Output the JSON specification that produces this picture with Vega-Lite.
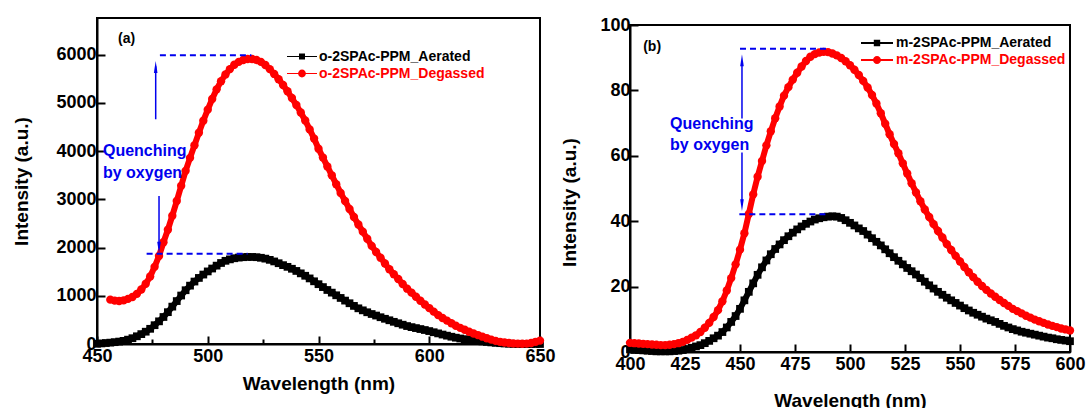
{
"$schema": "https://vega.github.io/schema/vega-lite/v6.json",
"background": "white",
"padding": {"left": 11, "top": 15, "right": 0, "bottom": 0},
"spacing": 90,
"bounds": "flush",
"datasets": {
"a": [
{"x":450,"y":5,"s":"o-2SPAc-PPM_Aerated"},{"x":452,"y":12,"s":"o-2SPAc-PPM_Aerated"},{"x":454,"y":20,"s":"o-2SPAc-PPM_Aerated"},{"x":456,"y":28,"s":"o-2SPAc-PPM_Aerated"},{"x":458,"y":38,"s":"o-2SPAc-PPM_Aerated"},{"x":460,"y":50,"s":"o-2SPAc-PPM_Aerated"},{"x":462,"y":65,"s":"o-2SPAc-PPM_Aerated"},{"x":464,"y":90,"s":"o-2SPAc-PPM_Aerated"},{"x":466,"y":120,"s":"o-2SPAc-PPM_Aerated"},{"x":468,"y":160,"s":"o-2SPAc-PPM_Aerated"},{"x":470,"y":205,"s":"o-2SPAc-PPM_Aerated"},{"x":472,"y":255,"s":"o-2SPAc-PPM_Aerated"},{"x":474,"y":315,"s":"o-2SPAc-PPM_Aerated"},{"x":476,"y":390,"s":"o-2SPAc-PPM_Aerated"},{"x":478,"y":470,"s":"o-2SPAc-PPM_Aerated"},{"x":480,"y":560,"s":"o-2SPAc-PPM_Aerated"},{"x":482,"y":660,"s":"o-2SPAc-PPM_Aerated"},{"x":484,"y":775,"s":"o-2SPAc-PPM_Aerated"},{"x":486,"y":890,"s":"o-2SPAc-PPM_Aerated"},{"x":488,"y":1005,"s":"o-2SPAc-PPM_Aerated"},{"x":490,"y":1115,"s":"o-2SPAc-PPM_Aerated"},{"x":492,"y":1210,"s":"o-2SPAc-PPM_Aerated"},{"x":494,"y":1295,"s":"o-2SPAc-PPM_Aerated"},{"x":496,"y":1370,"s":"o-2SPAc-PPM_Aerated"},{"x":498,"y":1440,"s":"o-2SPAc-PPM_Aerated"},{"x":500,"y":1505,"s":"o-2SPAc-PPM_Aerated"},{"x":502,"y":1565,"s":"o-2SPAc-PPM_Aerated"},{"x":504,"y":1625,"s":"o-2SPAc-PPM_Aerated"},{"x":506,"y":1680,"s":"o-2SPAc-PPM_Aerated"},{"x":508,"y":1725,"s":"o-2SPAc-PPM_Aerated"},{"x":510,"y":1755,"s":"o-2SPAc-PPM_Aerated"},{"x":512,"y":1778,"s":"o-2SPAc-PPM_Aerated"},{"x":514,"y":1792,"s":"o-2SPAc-PPM_Aerated"},{"x":516,"y":1800,"s":"o-2SPAc-PPM_Aerated"},{"x":518,"y":1805,"s":"o-2SPAc-PPM_Aerated"},{"x":520,"y":1805,"s":"o-2SPAc-PPM_Aerated"},{"x":522,"y":1800,"s":"o-2SPAc-PPM_Aerated"},{"x":524,"y":1788,"s":"o-2SPAc-PPM_Aerated"},{"x":526,"y":1770,"s":"o-2SPAc-PPM_Aerated"},{"x":528,"y":1745,"s":"o-2SPAc-PPM_Aerated"},{"x":530,"y":1712,"s":"o-2SPAc-PPM_Aerated"},{"x":532,"y":1675,"s":"o-2SPAc-PPM_Aerated"},{"x":534,"y":1635,"s":"o-2SPAc-PPM_Aerated"},{"x":536,"y":1600,"s":"o-2SPAc-PPM_Aerated"},{"x":538,"y":1560,"s":"o-2SPAc-PPM_Aerated"},{"x":540,"y":1515,"s":"o-2SPAc-PPM_Aerated"},{"x":542,"y":1465,"s":"o-2SPAc-PPM_Aerated"},{"x":544,"y":1415,"s":"o-2SPAc-PPM_Aerated"},{"x":546,"y":1360,"s":"o-2SPAc-PPM_Aerated"},{"x":548,"y":1300,"s":"o-2SPAc-PPM_Aerated"},{"x":550,"y":1240,"s":"o-2SPAc-PPM_Aerated"},{"x":552,"y":1180,"s":"o-2SPAc-PPM_Aerated"},{"x":554,"y":1120,"s":"o-2SPAc-PPM_Aerated"},{"x":556,"y":1065,"s":"o-2SPAc-PPM_Aerated"},{"x":558,"y":1010,"s":"o-2SPAc-PPM_Aerated"},{"x":560,"y":955,"s":"o-2SPAc-PPM_Aerated"},{"x":562,"y":900,"s":"o-2SPAc-PPM_Aerated"},{"x":564,"y":845,"s":"o-2SPAc-PPM_Aerated"},{"x":566,"y":790,"s":"o-2SPAc-PPM_Aerated"},{"x":568,"y":740,"s":"o-2SPAc-PPM_Aerated"},{"x":570,"y":698,"s":"o-2SPAc-PPM_Aerated"},{"x":572,"y":658,"s":"o-2SPAc-PPM_Aerated"},{"x":574,"y":622,"s":"o-2SPAc-PPM_Aerated"},{"x":576,"y":590,"s":"o-2SPAc-PPM_Aerated"},{"x":578,"y":555,"s":"o-2SPAc-PPM_Aerated"},{"x":580,"y":523,"s":"o-2SPAc-PPM_Aerated"},{"x":582,"y":492,"s":"o-2SPAc-PPM_Aerated"},{"x":584,"y":460,"s":"o-2SPAc-PPM_Aerated"},{"x":586,"y":430,"s":"o-2SPAc-PPM_Aerated"},{"x":588,"y":400,"s":"o-2SPAc-PPM_Aerated"},{"x":590,"y":372,"s":"o-2SPAc-PPM_Aerated"},{"x":592,"y":350,"s":"o-2SPAc-PPM_Aerated"},{"x":594,"y":330,"s":"o-2SPAc-PPM_Aerated"},{"x":596,"y":310,"s":"o-2SPAc-PPM_Aerated"},{"x":598,"y":290,"s":"o-2SPAc-PPM_Aerated"},{"x":600,"y":268,"s":"o-2SPAc-PPM_Aerated"},{"x":602,"y":244,"s":"o-2SPAc-PPM_Aerated"},{"x":604,"y":220,"s":"o-2SPAc-PPM_Aerated"},{"x":606,"y":196,"s":"o-2SPAc-PPM_Aerated"},{"x":608,"y":173,"s":"o-2SPAc-PPM_Aerated"},{"x":610,"y":151,"s":"o-2SPAc-PPM_Aerated"},{"x":612,"y":131,"s":"o-2SPAc-PPM_Aerated"},{"x":614,"y":114,"s":"o-2SPAc-PPM_Aerated"},{"x":616,"y":100,"s":"o-2SPAc-PPM_Aerated"},{"x":618,"y":87,"s":"o-2SPAc-PPM_Aerated"},{"x":620,"y":75,"s":"o-2SPAc-PPM_Aerated"},{"x":622,"y":64,"s":"o-2SPAc-PPM_Aerated"},{"x":624,"y":54,"s":"o-2SPAc-PPM_Aerated"},{"x":626,"y":43,"s":"o-2SPAc-PPM_Aerated"},{"x":628,"y":33,"s":"o-2SPAc-PPM_Aerated"},{"x":630,"y":24,"s":"o-2SPAc-PPM_Aerated"},{"x":632,"y":17,"s":"o-2SPAc-PPM_Aerated"},{"x":634,"y":11,"s":"o-2SPAc-PPM_Aerated"},{"x":636,"y":6,"s":"o-2SPAc-PPM_Aerated"},{"x":638,"y":3,"s":"o-2SPAc-PPM_Aerated"},{"x":640,"y":1,"s":"o-2SPAc-PPM_Aerated"},{"x":642,"y":0,"s":"o-2SPAc-PPM_Aerated"},{"x":644,"y":0,"s":"o-2SPAc-PPM_Aerated"},{"x":646,"y":0,"s":"o-2SPAc-PPM_Aerated"},{"x":648,"y":0,"s":"o-2SPAc-PPM_Aerated"},{"x":650,"y":0,"s":"o-2SPAc-PPM_Aerated"},
{"x":456,"y":920,"s":"o-2SPAc-PPM_Degassed"},{"x":458,"y":900,"s":"o-2SPAc-PPM_Degassed"},{"x":460,"y":892,"s":"o-2SPAc-PPM_Degassed"},{"x":462,"y":905,"s":"o-2SPAc-PPM_Degassed"},{"x":464,"y":935,"s":"o-2SPAc-PPM_Degassed"},{"x":466,"y":975,"s":"o-2SPAc-PPM_Degassed"},{"x":468,"y":1040,"s":"o-2SPAc-PPM_Degassed"},{"x":470,"y":1130,"s":"o-2SPAc-PPM_Degassed"},{"x":472,"y":1250,"s":"o-2SPAc-PPM_Degassed"},{"x":474,"y":1400,"s":"o-2SPAc-PPM_Degassed"},{"x":476,"y":1600,"s":"o-2SPAc-PPM_Degassed"},{"x":478,"y":1825,"s":"o-2SPAc-PPM_Degassed"},{"x":480,"y":2110,"s":"o-2SPAc-PPM_Degassed"},{"x":482,"y":2370,"s":"o-2SPAc-PPM_Degassed"},{"x":484,"y":2660,"s":"o-2SPAc-PPM_Degassed"},{"x":486,"y":2965,"s":"o-2SPAc-PPM_Degassed"},{"x":488,"y":3280,"s":"o-2SPAc-PPM_Degassed"},{"x":490,"y":3590,"s":"o-2SPAc-PPM_Degassed"},{"x":492,"y":3860,"s":"o-2SPAc-PPM_Degassed"},{"x":494,"y":4120,"s":"o-2SPAc-PPM_Degassed"},{"x":496,"y":4380,"s":"o-2SPAc-PPM_Degassed"},{"x":498,"y":4630,"s":"o-2SPAc-PPM_Degassed"},{"x":500,"y":4860,"s":"o-2SPAc-PPM_Degassed"},{"x":502,"y":5080,"s":"o-2SPAc-PPM_Degassed"},{"x":504,"y":5280,"s":"o-2SPAc-PPM_Degassed"},{"x":506,"y":5450,"s":"o-2SPAc-PPM_Degassed"},{"x":508,"y":5590,"s":"o-2SPAc-PPM_Degassed"},{"x":510,"y":5700,"s":"o-2SPAc-PPM_Degassed"},{"x":512,"y":5790,"s":"o-2SPAc-PPM_Degassed"},{"x":514,"y":5850,"s":"o-2SPAc-PPM_Degassed"},{"x":516,"y":5890,"s":"o-2SPAc-PPM_Degassed"},{"x":518,"y":5910,"s":"o-2SPAc-PPM_Degassed"},{"x":520,"y":5910,"s":"o-2SPAc-PPM_Degassed"},{"x":522,"y":5890,"s":"o-2SPAc-PPM_Degassed"},{"x":524,"y":5850,"s":"o-2SPAc-PPM_Degassed"},{"x":526,"y":5785,"s":"o-2SPAc-PPM_Degassed"},{"x":528,"y":5700,"s":"o-2SPAc-PPM_Degassed"},{"x":530,"y":5600,"s":"o-2SPAc-PPM_Degassed"},{"x":532,"y":5490,"s":"o-2SPAc-PPM_Degassed"},{"x":534,"y":5370,"s":"o-2SPAc-PPM_Degassed"},{"x":536,"y":5240,"s":"o-2SPAc-PPM_Degassed"},{"x":538,"y":5100,"s":"o-2SPAc-PPM_Degassed"},{"x":540,"y":4955,"s":"o-2SPAc-PPM_Degassed"},{"x":542,"y":4800,"s":"o-2SPAc-PPM_Degassed"},{"x":544,"y":4635,"s":"o-2SPAc-PPM_Degassed"},{"x":546,"y":4450,"s":"o-2SPAc-PPM_Degassed"},{"x":548,"y":4260,"s":"o-2SPAc-PPM_Degassed"},{"x":550,"y":4050,"s":"o-2SPAc-PPM_Degassed"},{"x":552,"y":3866,"s":"o-2SPAc-PPM_Degassed"},{"x":554,"y":3682,"s":"o-2SPAc-PPM_Degassed"},{"x":556,"y":3498,"s":"o-2SPAc-PPM_Degassed"},{"x":558,"y":3314,"s":"o-2SPAc-PPM_Degassed"},{"x":560,"y":3132,"s":"o-2SPAc-PPM_Degassed"},{"x":562,"y":2966,"s":"o-2SPAc-PPM_Degassed"},{"x":564,"y":2800,"s":"o-2SPAc-PPM_Degassed"},{"x":566,"y":2635,"s":"o-2SPAc-PPM_Degassed"},{"x":568,"y":2478,"s":"o-2SPAc-PPM_Degassed"},{"x":570,"y":2330,"s":"o-2SPAc-PPM_Degassed"},{"x":572,"y":2183,"s":"o-2SPAc-PPM_Degassed"},{"x":574,"y":2035,"s":"o-2SPAc-PPM_Degassed"},{"x":576,"y":1908,"s":"o-2SPAc-PPM_Degassed"},{"x":578,"y":1790,"s":"o-2SPAc-PPM_Degassed"},{"x":580,"y":1670,"s":"o-2SPAc-PPM_Degassed"},{"x":582,"y":1550,"s":"o-2SPAc-PPM_Degassed"},{"x":584,"y":1448,"s":"o-2SPAc-PPM_Degassed"},{"x":586,"y":1347,"s":"o-2SPAc-PPM_Degassed"},{"x":588,"y":1245,"s":"o-2SPAc-PPM_Degassed"},{"x":590,"y":1147,"s":"o-2SPAc-PPM_Degassed"},{"x":592,"y":1065,"s":"o-2SPAc-PPM_Degassed"},{"x":594,"y":980,"s":"o-2SPAc-PPM_Degassed"},{"x":596,"y":898,"s":"o-2SPAc-PPM_Degassed"},{"x":598,"y":820,"s":"o-2SPAc-PPM_Degassed"},{"x":600,"y":745,"s":"o-2SPAc-PPM_Degassed"},{"x":602,"y":672,"s":"o-2SPAc-PPM_Degassed"},{"x":604,"y":600,"s":"o-2SPAc-PPM_Degassed"},{"x":606,"y":540,"s":"o-2SPAc-PPM_Degassed"},{"x":608,"y":485,"s":"o-2SPAc-PPM_Degassed"},{"x":610,"y":430,"s":"o-2SPAc-PPM_Degassed"},{"x":612,"y":378,"s":"o-2SPAc-PPM_Degassed"},{"x":614,"y":335,"s":"o-2SPAc-PPM_Degassed"},{"x":616,"y":295,"s":"o-2SPAc-PPM_Degassed"},{"x":618,"y":255,"s":"o-2SPAc-PPM_Degassed"},{"x":620,"y":218,"s":"o-2SPAc-PPM_Degassed"},{"x":622,"y":185,"s":"o-2SPAc-PPM_Degassed"},{"x":624,"y":152,"s":"o-2SPAc-PPM_Degassed"},{"x":626,"y":120,"s":"o-2SPAc-PPM_Degassed"},{"x":628,"y":90,"s":"o-2SPAc-PPM_Degassed"},{"x":630,"y":65,"s":"o-2SPAc-PPM_Degassed"},{"x":632,"y":45,"s":"o-2SPAc-PPM_Degassed"},{"x":634,"y":30,"s":"o-2SPAc-PPM_Degassed"},{"x":636,"y":20,"s":"o-2SPAc-PPM_Degassed"},{"x":638,"y":12,"s":"o-2SPAc-PPM_Degassed"},{"x":640,"y":8,"s":"o-2SPAc-PPM_Degassed"},{"x":642,"y":5,"s":"o-2SPAc-PPM_Degassed"},{"x":644,"y":8,"s":"o-2SPAc-PPM_Degassed"},{"x":646,"y":20,"s":"o-2SPAc-PPM_Degassed"},{"x":648,"y":45,"s":"o-2SPAc-PPM_Degassed"},{"x":650,"y":70,"s":"o-2SPAc-PPM_Degassed"}
],
"b": [
{"x":400,"y":0.8,"s":"m-2SPAc-PPM_Aerated"},{"x":402,"y":0.7,"s":"m-2SPAc-PPM_Aerated"},{"x":404,"y":0.6,"s":"m-2SPAc-PPM_Aerated"},{"x":406,"y":0.5,"s":"m-2SPAc-PPM_Aerated"},{"x":408,"y":0.4,"s":"m-2SPAc-PPM_Aerated"},{"x":410,"y":0.3,"s":"m-2SPAc-PPM_Aerated"},{"x":412,"y":0.2,"s":"m-2SPAc-PPM_Aerated"},{"x":414,"y":0.2,"s":"m-2SPAc-PPM_Aerated"},{"x":416,"y":0.2,"s":"m-2SPAc-PPM_Aerated"},{"x":418,"y":0.2,"s":"m-2SPAc-PPM_Aerated"},{"x":420,"y":0.3,"s":"m-2SPAc-PPM_Aerated"},{"x":422,"y":0.4,"s":"m-2SPAc-PPM_Aerated"},{"x":424,"y":0.6,"s":"m-2SPAc-PPM_Aerated"},{"x":426,"y":0.9,"s":"m-2SPAc-PPM_Aerated"},{"x":428,"y":1.3,"s":"m-2SPAc-PPM_Aerated"},{"x":430,"y":1.7,"s":"m-2SPAc-PPM_Aerated"},{"x":432,"y":2.1,"s":"m-2SPAc-PPM_Aerated"},{"x":434,"y":2.7,"s":"m-2SPAc-PPM_Aerated"},{"x":436,"y":3.4,"s":"m-2SPAc-PPM_Aerated"},{"x":438,"y":4.2,"s":"m-2SPAc-PPM_Aerated"},{"x":440,"y":5.0,"s":"m-2SPAc-PPM_Aerated"},{"x":442,"y":6.1,"s":"m-2SPAc-PPM_Aerated"},{"x":444,"y":7.5,"s":"m-2SPAc-PPM_Aerated"},{"x":446,"y":9.2,"s":"m-2SPAc-PPM_Aerated"},{"x":448,"y":11.0,"s":"m-2SPAc-PPM_Aerated"},{"x":450,"y":13.2,"s":"m-2SPAc-PPM_Aerated"},{"x":452,"y":15.8,"s":"m-2SPAc-PPM_Aerated"},{"x":454,"y":18.4,"s":"m-2SPAc-PPM_Aerated"},{"x":456,"y":21.0,"s":"m-2SPAc-PPM_Aerated"},{"x":458,"y":23.6,"s":"m-2SPAc-PPM_Aerated"},{"x":460,"y":25.9,"s":"m-2SPAc-PPM_Aerated"},{"x":462,"y":28.0,"s":"m-2SPAc-PPM_Aerated"},{"x":464,"y":29.9,"s":"m-2SPAc-PPM_Aerated"},{"x":466,"y":31.5,"s":"m-2SPAc-PPM_Aerated"},{"x":468,"y":32.9,"s":"m-2SPAc-PPM_Aerated"},{"x":470,"y":34.2,"s":"m-2SPAc-PPM_Aerated"},{"x":472,"y":35.4,"s":"m-2SPAc-PPM_Aerated"},{"x":474,"y":36.5,"s":"m-2SPAc-PPM_Aerated"},{"x":476,"y":37.5,"s":"m-2SPAc-PPM_Aerated"},{"x":478,"y":38.4,"s":"m-2SPAc-PPM_Aerated"},{"x":480,"y":39.2,"s":"m-2SPAc-PPM_Aerated"},{"x":482,"y":39.9,"s":"m-2SPAc-PPM_Aerated"},{"x":484,"y":40.5,"s":"m-2SPAc-PPM_Aerated"},{"x":486,"y":40.9,"s":"m-2SPAc-PPM_Aerated"},{"x":488,"y":41.2,"s":"m-2SPAc-PPM_Aerated"},{"x":490,"y":41.4,"s":"m-2SPAc-PPM_Aerated"},{"x":492,"y":41.5,"s":"m-2SPAc-PPM_Aerated"},{"x":494,"y":41.4,"s":"m-2SPAc-PPM_Aerated"},{"x":496,"y":41.0,"s":"m-2SPAc-PPM_Aerated"},{"x":498,"y":40.3,"s":"m-2SPAc-PPM_Aerated"},{"x":500,"y":39.5,"s":"m-2SPAc-PPM_Aerated"},{"x":502,"y":38.7,"s":"m-2SPAc-PPM_Aerated"},{"x":504,"y":37.8,"s":"m-2SPAc-PPM_Aerated"},{"x":506,"y":37.0,"s":"m-2SPAc-PPM_Aerated"},{"x":508,"y":35.9,"s":"m-2SPAc-PPM_Aerated"},{"x":510,"y":34.8,"s":"m-2SPAc-PPM_Aerated"},{"x":512,"y":33.7,"s":"m-2SPAc-PPM_Aerated"},{"x":514,"y":32.6,"s":"m-2SPAc-PPM_Aerated"},{"x":516,"y":31.4,"s":"m-2SPAc-PPM_Aerated"},{"x":518,"y":30.2,"s":"m-2SPAc-PPM_Aerated"},{"x":520,"y":29.0,"s":"m-2SPAc-PPM_Aerated"},{"x":522,"y":27.9,"s":"m-2SPAc-PPM_Aerated"},{"x":524,"y":26.8,"s":"m-2SPAc-PPM_Aerated"},{"x":526,"y":25.7,"s":"m-2SPAc-PPM_Aerated"},{"x":528,"y":24.7,"s":"m-2SPAc-PPM_Aerated"},{"x":530,"y":23.7,"s":"m-2SPAc-PPM_Aerated"},{"x":532,"y":22.6,"s":"m-2SPAc-PPM_Aerated"},{"x":534,"y":21.5,"s":"m-2SPAc-PPM_Aerated"},{"x":536,"y":20.4,"s":"m-2SPAc-PPM_Aerated"},{"x":538,"y":19.4,"s":"m-2SPAc-PPM_Aerated"},{"x":540,"y":18.4,"s":"m-2SPAc-PPM_Aerated"},{"x":542,"y":17.5,"s":"m-2SPAc-PPM_Aerated"},{"x":544,"y":16.6,"s":"m-2SPAc-PPM_Aerated"},{"x":546,"y":15.8,"s":"m-2SPAc-PPM_Aerated"},{"x":548,"y":15.0,"s":"m-2SPAc-PPM_Aerated"},{"x":550,"y":14.2,"s":"m-2SPAc-PPM_Aerated"},{"x":552,"y":13.4,"s":"m-2SPAc-PPM_Aerated"},{"x":554,"y":12.7,"s":"m-2SPAc-PPM_Aerated"},{"x":556,"y":12.0,"s":"m-2SPAc-PPM_Aerated"},{"x":558,"y":11.4,"s":"m-2SPAc-PPM_Aerated"},{"x":560,"y":10.8,"s":"m-2SPAc-PPM_Aerated"},{"x":562,"y":10.2,"s":"m-2SPAc-PPM_Aerated"},{"x":564,"y":9.7,"s":"m-2SPAc-PPM_Aerated"},{"x":566,"y":9.2,"s":"m-2SPAc-PPM_Aerated"},{"x":568,"y":8.6,"s":"m-2SPAc-PPM_Aerated"},{"x":570,"y":8.0,"s":"m-2SPAc-PPM_Aerated"},{"x":572,"y":7.5,"s":"m-2SPAc-PPM_Aerated"},{"x":574,"y":7.0,"s":"m-2SPAc-PPM_Aerated"},{"x":576,"y":6.6,"s":"m-2SPAc-PPM_Aerated"},{"x":578,"y":6.2,"s":"m-2SPAc-PPM_Aerated"},{"x":580,"y":5.9,"s":"m-2SPAc-PPM_Aerated"},{"x":582,"y":5.6,"s":"m-2SPAc-PPM_Aerated"},{"x":584,"y":5.3,"s":"m-2SPAc-PPM_Aerated"},{"x":586,"y":5.0,"s":"m-2SPAc-PPM_Aerated"},{"x":588,"y":4.7,"s":"m-2SPAc-PPM_Aerated"},{"x":590,"y":4.4,"s":"m-2SPAc-PPM_Aerated"},{"x":592,"y":4.2,"s":"m-2SPAc-PPM_Aerated"},{"x":594,"y":3.9,"s":"m-2SPAc-PPM_Aerated"},{"x":596,"y":3.7,"s":"m-2SPAc-PPM_Aerated"},{"x":598,"y":3.5,"s":"m-2SPAc-PPM_Aerated"},{"x":600,"y":3.3,"s":"m-2SPAc-PPM_Aerated"},
{"x":400,"y":2.8,"s":"m-2SPAc-PPM_Degassed"},{"x":402,"y":2.7,"s":"m-2SPAc-PPM_Degassed"},{"x":404,"y":2.6,"s":"m-2SPAc-PPM_Degassed"},{"x":406,"y":2.5,"s":"m-2SPAc-PPM_Degassed"},{"x":408,"y":2.4,"s":"m-2SPAc-PPM_Degassed"},{"x":410,"y":2.3,"s":"m-2SPAc-PPM_Degassed"},{"x":412,"y":2.2,"s":"m-2SPAc-PPM_Degassed"},{"x":414,"y":2.1,"s":"m-2SPAc-PPM_Degassed"},{"x":416,"y":2.1,"s":"m-2SPAc-PPM_Degassed"},{"x":418,"y":2.2,"s":"m-2SPAc-PPM_Degassed"},{"x":420,"y":2.4,"s":"m-2SPAc-PPM_Degassed"},{"x":422,"y":2.7,"s":"m-2SPAc-PPM_Degassed"},{"x":424,"y":3.1,"s":"m-2SPAc-PPM_Degassed"},{"x":426,"y":3.7,"s":"m-2SPAc-PPM_Degassed"},{"x":428,"y":4.4,"s":"m-2SPAc-PPM_Degassed"},{"x":430,"y":5.1,"s":"m-2SPAc-PPM_Degassed"},{"x":432,"y":6.1,"s":"m-2SPAc-PPM_Degassed"},{"x":434,"y":7.4,"s":"m-2SPAc-PPM_Degassed"},{"x":436,"y":8.9,"s":"m-2SPAc-PPM_Degassed"},{"x":438,"y":10.7,"s":"m-2SPAc-PPM_Degassed"},{"x":440,"y":12.8,"s":"m-2SPAc-PPM_Degassed"},{"x":442,"y":15.5,"s":"m-2SPAc-PPM_Degassed"},{"x":444,"y":18.8,"s":"m-2SPAc-PPM_Degassed"},{"x":446,"y":22.6,"s":"m-2SPAc-PPM_Degassed"},{"x":448,"y":26.8,"s":"m-2SPAc-PPM_Degassed"},{"x":450,"y":31.3,"s":"m-2SPAc-PPM_Degassed"},{"x":452,"y":36.3,"s":"m-2SPAc-PPM_Degassed"},{"x":454,"y":42.2,"s":"m-2SPAc-PPM_Degassed"},{"x":456,"y":48.2,"s":"m-2SPAc-PPM_Degassed"},{"x":458,"y":53.6,"s":"m-2SPAc-PPM_Degassed"},{"x":460,"y":58.4,"s":"m-2SPAc-PPM_Degassed"},{"x":462,"y":63.2,"s":"m-2SPAc-PPM_Degassed"},{"x":464,"y":67.5,"s":"m-2SPAc-PPM_Degassed"},{"x":466,"y":71.5,"s":"m-2SPAc-PPM_Degassed"},{"x":468,"y":75.1,"s":"m-2SPAc-PPM_Degassed"},{"x":470,"y":78.4,"s":"m-2SPAc-PPM_Degassed"},{"x":472,"y":81.0,"s":"m-2SPAc-PPM_Degassed"},{"x":474,"y":83.3,"s":"m-2SPAc-PPM_Degassed"},{"x":476,"y":85.4,"s":"m-2SPAc-PPM_Degassed"},{"x":478,"y":87.3,"s":"m-2SPAc-PPM_Degassed"},{"x":480,"y":89.0,"s":"m-2SPAc-PPM_Degassed"},{"x":482,"y":90.3,"s":"m-2SPAc-PPM_Degassed"},{"x":484,"y":91.1,"s":"m-2SPAc-PPM_Degassed"},{"x":486,"y":91.6,"s":"m-2SPAc-PPM_Degassed"},{"x":488,"y":91.8,"s":"m-2SPAc-PPM_Degassed"},{"x":490,"y":91.7,"s":"m-2SPAc-PPM_Degassed"},{"x":492,"y":91.3,"s":"m-2SPAc-PPM_Degassed"},{"x":494,"y":90.7,"s":"m-2SPAc-PPM_Degassed"},{"x":496,"y":89.9,"s":"m-2SPAc-PPM_Degassed"},{"x":498,"y":88.9,"s":"m-2SPAc-PPM_Degassed"},{"x":500,"y":87.7,"s":"m-2SPAc-PPM_Degassed"},{"x":502,"y":86.3,"s":"m-2SPAc-PPM_Degassed"},{"x":504,"y":84.7,"s":"m-2SPAc-PPM_Degassed"},{"x":506,"y":82.9,"s":"m-2SPAc-PPM_Degassed"},{"x":508,"y":80.9,"s":"m-2SPAc-PPM_Degassed"},{"x":510,"y":78.6,"s":"m-2SPAc-PPM_Degassed"},{"x":512,"y":76.0,"s":"m-2SPAc-PPM_Degassed"},{"x":514,"y":73.0,"s":"m-2SPAc-PPM_Degassed"},{"x":516,"y":69.8,"s":"m-2SPAc-PPM_Degassed"},{"x":518,"y":66.6,"s":"m-2SPAc-PPM_Degassed"},{"x":520,"y":63.6,"s":"m-2SPAc-PPM_Degassed"},{"x":522,"y":60.8,"s":"m-2SPAc-PPM_Degassed"},{"x":524,"y":57.7,"s":"m-2SPAc-PPM_Degassed"},{"x":526,"y":54.6,"s":"m-2SPAc-PPM_Degassed"},{"x":528,"y":51.6,"s":"m-2SPAc-PPM_Degassed"},{"x":530,"y":48.8,"s":"m-2SPAc-PPM_Degassed"},{"x":532,"y":46.1,"s":"m-2SPAc-PPM_Degassed"},{"x":534,"y":43.6,"s":"m-2SPAc-PPM_Degassed"},{"x":536,"y":41.3,"s":"m-2SPAc-PPM_Degassed"},{"x":538,"y":39.1,"s":"m-2SPAc-PPM_Degassed"},{"x":540,"y":37.0,"s":"m-2SPAc-PPM_Degassed"},{"x":542,"y":35.0,"s":"m-2SPAc-PPM_Degassed"},{"x":544,"y":33.0,"s":"m-2SPAc-PPM_Degassed"},{"x":546,"y":31.2,"s":"m-2SPAc-PPM_Degassed"},{"x":548,"y":29.4,"s":"m-2SPAc-PPM_Degassed"},{"x":550,"y":27.7,"s":"m-2SPAc-PPM_Degassed"},{"x":552,"y":26.0,"s":"m-2SPAc-PPM_Degassed"},{"x":554,"y":24.4,"s":"m-2SPAc-PPM_Degassed"},{"x":556,"y":22.9,"s":"m-2SPAc-PPM_Degassed"},{"x":558,"y":21.5,"s":"m-2SPAc-PPM_Degassed"},{"x":560,"y":20.2,"s":"m-2SPAc-PPM_Degassed"},{"x":562,"y":19.0,"s":"m-2SPAc-PPM_Degassed"},{"x":564,"y":17.9,"s":"m-2SPAc-PPM_Degassed"},{"x":566,"y":16.9,"s":"m-2SPAc-PPM_Degassed"},{"x":568,"y":15.9,"s":"m-2SPAc-PPM_Degassed"},{"x":570,"y":15.0,"s":"m-2SPAc-PPM_Degassed"},{"x":572,"y":14.1,"s":"m-2SPAc-PPM_Degassed"},{"x":574,"y":13.2,"s":"m-2SPAc-PPM_Degassed"},{"x":576,"y":12.5,"s":"m-2SPAc-PPM_Degassed"},{"x":578,"y":11.8,"s":"m-2SPAc-PPM_Degassed"},{"x":580,"y":11.1,"s":"m-2SPAc-PPM_Degassed"},{"x":582,"y":10.5,"s":"m-2SPAc-PPM_Degassed"},{"x":584,"y":9.9,"s":"m-2SPAc-PPM_Degassed"},{"x":586,"y":9.4,"s":"m-2SPAc-PPM_Degassed"},{"x":588,"y":8.9,"s":"m-2SPAc-PPM_Degassed"},{"x":590,"y":8.4,"s":"m-2SPAc-PPM_Degassed"},{"x":592,"y":8.0,"s":"m-2SPAc-PPM_Degassed"},{"x":594,"y":7.6,"s":"m-2SPAc-PPM_Degassed"},{"x":596,"y":7.2,"s":"m-2SPAc-PPM_Degassed"},{"x":598,"y":6.9,"s":"m-2SPAc-PPM_Degassed"},{"x":600,"y":6.6,"s":"m-2SPAc-PPM_Degassed"}
]
},
"hconcat": [
{
"width": 443, "height": 326,
"data": {"values": [{}]},
"layer": [
{"data": {"name": "a"}, "mark": {"type": "line", "strokeWidth": 6},
 "encoding": {
  "x": {"field": "x", "type": "quantitative", "scale": {"domain": [450, 650], "nice": false, "zero": false},
   "axis": {"title": "Wavelength (nm)", "values": [450,475,500,525,550,575,600,625,650], "format": "d", "labelExpr": "datum.value % 50 === 0 ? datum.label : ''", "tickSize": {"condition": {"test": "datum.value % 50 === 0", "value": -8}, "value": -5}, "labelPadding": 11, "titlePadding": 6}},
  "y": {"field": "y", "type": "quantitative", "scale": {"domain": [0, 6760], "nice": false, "zero": false},
   "axis": {"title": "Intensity (a.u.)", "values": [0,500,1000,1500,2000,2500,3000,3500,4000,4500,5000,5500,6000,6500], "format": "d", "labelExpr": "datum.value % 1000 === 0 ? datum.label : ''", "tickSize": {"condition": {"test": "datum.value % 1000 === 0", "value": -8}, "value": -5}, "labelPadding": 9, "titlePadding": 24}},
  "color": {"field": "s", "type": "nominal", "scale": {"domain": ["o-2SPAc-PPM_Aerated", "o-2SPAc-PPM_Degassed"], "range": ["#000000", "#ff0000"]},
   "legend": {"orient": "none", "legendX": 190, "legendY": 30, "title": null, "symbolSize": 900, "clipHeight": 17, "labelOffset": 2,
    "encode": {"symbols": {"update": {
      "shape": {"signal": "test(/Aerated/, datum.value) ? 'M-1,-0.035H1V0.035H-1Z M-0.2,-0.2H0.2V0.2H-0.2Z' : 'M-1,-0.035H1V0.035H-1Z M0.26,0A0.26,0.26,0,1,1,-0.26,0A0.26,0.26,0,1,1,0.26,0Z'"},
      "fill": {"signal": "test(/Degassed/, datum.value) ? '#ff0000' : '#000000'"},
      "fillOpacity": {"value": 1}, "strokeWidth": {"value": 0}, "opacity": {"value": 1}}},
     "labels": {"update": {"fill": {"signal": "test(/Degassed/, datum.value) ? '#ff0000' : '#000000'"}}}}}}
 }},
{"data": {"name": "a"}, "transform": [{"filter": "datum.s === 'o-2SPAc-PPM_Aerated'"}],
 "mark": {"type": "point", "filled": true, "opacity": 1, "size": 60, "strokeWidth": 0, "shape": "square", "color": "#000000"},
 "encoding": {"x": {"field": "x", "type": "quantitative"}, "y": {"field": "y", "type": "quantitative"}}},
{"data": {"name": "a"}, "transform": [{"filter": "datum.s === 'o-2SPAc-PPM_Degassed'"}],
 "mark": {"type": "point", "filled": true, "opacity": 1, "size": 70, "strokeWidth": 0, "shape": "circle", "color": "#ff0000"},
 "encoding": {"x": {"field": "x", "type": "quantitative"}, "y": {"field": "y", "type": "quantitative"}}},
{"mark": {"type": "rule", "color": "#0000ee", "strokeWidth": 2, "strokeDash": [6, 4]},
 "encoding": {"x": {"datum": 478.4}, "x2": {"datum": 519.7}, "y": {"datum": 5990}}},
{"mark": {"type": "rule", "color": "#0000ee", "strokeWidth": 2, "strokeDash": [6, 4]},
 "encoding": {"x": {"datum": 472.4}, "x2": {"datum": 518}, "y": {"datum": 1870}}},
{"mark": {"type": "rule", "color": "#0000ee", "strokeWidth": 1.5},
 "encoding": {"x": {"datum": 476.5}, "y": {"datum": 4660}, "y2": {"datum": 5760}}},
{"mark": {"type": "point", "filled": true, "opacity": 1, "color": "#0000ee", "size": 144, "shape": "M0,-1L0.3,1L-0.3,1Z"},
 "encoding": {"x": {"datum": 476.5}, "y": {"datum": 5745}}},
{"mark": {"type": "rule", "color": "#0000ee", "strokeWidth": 1.5},
 "encoding": {"x": {"datum": 478}, "y": {"datum": 3070}, "y2": {"datum": 1990}}},
{"mark": {"type": "point", "filled": true, "opacity": 1, "color": "#0000ee", "size": 144, "shape": "M0,1L0.3,-1L-0.3,-1Z"},
 "encoding": {"x": {"datum": 478}, "y": {"datum": 1995}}},
{"mark": {"type": "text", "align": "left", "baseline": "alphabetic", "font": "Liberation Sans", "fontWeight": "bold", "fontSize": 16, "lineHeight": 22, "color": "#0000ee"},
 "encoding": {"x": {"datum": 452.7}, "y": {"datum": 3900}, "text": {"value": ["Quenching", "by oxygen"]}}},
{"mark": {"type": "text", "align": "left", "baseline": "alphabetic", "font": "Liberation Sans", "fontWeight": "bold", "fontSize": 14, "color": "#000000"},
 "encoding": {"x": {"datum": 459.5}, "y": {"datum": 6234}, "text": {"value": "(a)"}}}
]
},
{
"bounds": "flush",
"spacing": 6,
"vconcat": [
{"width": 440, "height": 1, "view": {"stroke": null}, "data": {"values": []}, "mark": {"type": "point"}},
{
"width": 440, "height": 327,
"data": {"values": [{}]},
"layer": [
{"data": {"name": "b"}, "mark": {"type": "line", "strokeWidth": 6},
 "encoding": {
  "x": {"field": "x", "type": "quantitative", "scale": {"domain": [400, 600], "nice": false, "zero": false},
   "axis": {"title": "Wavelength (nm)", "values": [400,412.5,425,437.5,450,462.5,475,487.5,500,512.5,525,537.5,550,562.5,575,587.5,600], "format": "d", "labelExpr": "datum.value % 25 === 0 ? datum.label : ''", "tickSize": {"condition": {"test": "datum.value % 25 === 0", "value": -8}, "value": -5}, "labelPadding": 11, "titlePadding": 18}},
  "y": {"field": "y", "type": "quantitative", "scale": {"domain": [0, 100], "nice": false, "zero": false},
   "axis": {"title": "Intensity (a.u.)", "values": [0,10,20,30,40,50,60,70,80,90,100], "format": "d", "labelExpr": "datum.value % 20 === 0 ? datum.label : ''", "tickSize": {"condition": {"test": "datum.value % 20 === 0", "value": -8}, "value": -5}, "labelPadding": 8, "titlePadding": 20, "titleY": 177}},
  "color": {"field": "s", "type": "nominal", "scale": {"domain": ["m-2SPAc-PPM_Aerated", "m-2SPAc-PPM_Degassed"], "range": ["#000000", "#ff0000"]},
   "legend": {"orient": "none", "legendX": 231, "legendY": 16.5, "title": null, "symbolSize": 1024, "clipHeight": 17, "labelOffset": 3,
    "encode": {"symbols": {"update": {
      "shape": {"signal": "test(/Aerated/, datum.value) ? 'M-1,-0.06H1V0.06H-1Z M-0.2,-0.2H0.2V0.2H-0.2Z' : 'M-1,-0.06H1V0.06H-1Z M0.25,0A0.25,0.25,0,1,1,-0.25,0A0.25,0.25,0,1,1,0.25,0Z'"},
      "fill": {"signal": "test(/Degassed/, datum.value) ? '#ff0000' : '#000000'"},
      "fillOpacity": {"value": 1}, "strokeWidth": {"value": 0}, "opacity": {"value": 1}}},
     "labels": {"update": {"fill": {"signal": "test(/Degassed/, datum.value) ? '#ff0000' : '#000000'"}}}}}}
 }},
{"data": {"name": "b"}, "transform": [{"filter": "datum.s === 'm-2SPAc-PPM_Aerated'"}],
 "mark": {"type": "point", "filled": true, "opacity": 1, "size": 60, "strokeWidth": 0, "shape": "square", "color": "#000000"},
 "encoding": {"x": {"field": "x", "type": "quantitative"}, "y": {"field": "y", "type": "quantitative"}}},
{"data": {"name": "b"}, "transform": [{"filter": "datum.s === 'm-2SPAc-PPM_Degassed'"}],
 "mark": {"type": "point", "filled": true, "opacity": 1, "size": 70, "strokeWidth": 0, "shape": "circle", "color": "#ff0000"},
 "encoding": {"x": {"field": "x", "type": "quantitative"}, "y": {"field": "y", "type": "quantitative"}}},
{"mark": {"type": "rule", "color": "#0000ee", "strokeWidth": 2, "strokeDash": [6, 4]},
 "encoding": {"x": {"datum": 450}, "x2": {"datum": 489.4}, "y": {"datum": 92.75}}},
{"mark": {"type": "rule", "color": "#0000ee", "strokeWidth": 2, "strokeDash": [6, 4]},
 "encoding": {"x": {"datum": 449.7}, "x2": {"datum": 489.4}, "y": {"datum": 42.1}}},
{"mark": {"type": "rule", "color": "#0000ee", "strokeWidth": 1.5},
 "encoding": {"x": {"datum": 450.9}, "y": {"datum": 71.4}, "y2": {"datum": 89}}},
{"mark": {"type": "point", "filled": true, "opacity": 1, "color": "#0000ee", "size": 144, "shape": "M0,-1L0.3,1L-0.3,1Z"},
 "encoding": {"x": {"datum": 450.9}, "y": {"datum": 89.2}}},
{"mark": {"type": "rule", "color": "#0000ee", "strokeWidth": 1.5},
 "encoding": {"x": {"datum": 450.9}, "y": {"datum": 61}, "y2": {"datum": 45}}},
{"mark": {"type": "point", "filled": true, "opacity": 1, "color": "#0000ee", "size": 144, "shape": "M0,1L0.3,-1L-0.3,-1Z"},
 "encoding": {"x": {"datum": 450.9}, "y": {"datum": 44.9}}},
{"mark": {"type": "text", "align": "left", "baseline": "alphabetic", "font": "Liberation Sans", "fontWeight": "bold", "fontSize": 16, "lineHeight": 21, "color": "#0000ee"},
 "encoding": {"x": {"datum": 418.2}, "y": {"datum": 68.2}, "text": {"value": ["Quenching", "by oxygen"]}}},
{"mark": {"type": "text", "align": "left", "baseline": "alphabetic", "font": "Liberation Sans", "fontWeight": "bold", "fontSize": 14, "color": "#000000"},
 "encoding": {"x": {"datum": 406}, "y": {"datum": 92}, "text": {"value": "(b)"}}}
]
}
]
}
],
"resolve": {"scale": {"color": "independent"}, "legend": {"color": "independent"}},
"config": {
 "view": {"stroke": "#000000", "strokeWidth": 2},
 "axis": {"grid": false, "domainColor": "#000000", "domainWidth": 2, "tickColor": "#000000", "tickWidth": 2, "labelFont": "Liberation Sans", "labelFontSize": 18, "labelFontWeight": "bold", "labelColor": "#000000", "titleFont": "Liberation Sans", "titleFontSize": 19, "titleFontWeight": "bold", "titleColor": "#000000", "labelOverlap": false, "labelFlush": false},
 "legend": {"labelFont": "Liberation Sans", "labelFontSize": 14, "labelFontWeight": "bold", "labelColor": "#000000", "padding": 0, "rowPadding": 0, "symbolStrokeWidth": 0, "labelLimit": 300}
}
}
